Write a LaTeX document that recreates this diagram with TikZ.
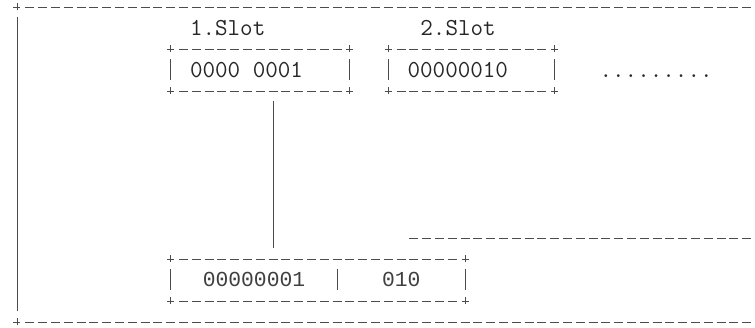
\documentclass[tikz,border=0pt]{standalone}
\usepackage{fontspec}
\newfontfamily\asciifont{Liberation Mono}
\usetikzlibrary{positioning}

% ascii-like frame round a box node
\newcommand{\asciiframe}[1]{%
  \draw[dashrule] ([xshift=8.3pt]#1.north west) -- ([xshift=-8.3pt]#1.north east);
  \draw[dashrule] ([xshift=8.3pt]#1.south west) -- ([xshift=-8.3pt]#1.south east);
  \draw[vbar] ([yshift=-10.5pt]#1.north west) -- ([yshift=10.5pt]#1.south west);
  \draw[vbar] ([yshift=-10.5pt]#1.north east) -- ([yshift=10.5pt]#1.south east);
  \foreach \c in {north west,north east,south west,south east} \pic at (#1.\c) {plusmark};
}

\begin{document}
\begin{tikzpicture}[x=12.8pt, y=-21pt,
    lbl/.style={anchor=base west, inner sep=0pt, yshift=-7.2pt, text=black!85, font=\ttfamily\fontsize{24.38}{28}\selectfont},
    mlbl/.style={anchor=base west, inner sep=0pt, yshift=-6.6pt, text=black!75, font=\asciifont\fontsize{21.33}{25}\selectfont},
    dashrule/.style={draw=black!70, line width=0.85pt, dash pattern=on 9pt off 3.8pt},
    vbar/.style={draw=black!70, line width=0.85pt},
    slotbox/.style={rectangle, inner sep=0pt, outer sep=0pt, minimum height=42pt},
    plusmark/.pic={\draw[vbar] (-3.5pt,0) -- (3.5pt,0) (0,-3.5pt) -- (0,3.5pt);}]
    \useasboundingbox (-1.328,-0.333) rectangle (57.656,15.286);

    % outer frame
    \coordinate (otl) at (0,0);
    \coordinate (obl) at (0,15);
    \coordinate (otr) at (57.7,0);
    \coordinate (obr) at (57.7,15);
    \draw[dashrule] ([xshift=8.3pt]otl) -- (otr);
    \draw[dashrule] ([xshift=8.3pt]obl) -- (obr);
    \draw[vbar, shorten <=10.5pt, shorten >=10.5pt] (otl) -- (obl);
    \pic at (otl) {plusmark};
    \pic at (obl) {plusmark};

    % slots and merged entry
    \node[slotbox, minimum width=179.2pt] (s1) at (19,3) {};
    \node[slotbox, minimum width=166.4pt] (s2) at (35.5,3) {};
    \node[slotbox, minimum width=294.4pt] (m) at (23.5,13) {};
    \asciiframe{s1}
    \asciiframe{s2}
    \asciiframe{m}

    \node[lbl] (l1) at (13.5,1) {1.Slot};
    \node[lbl] (l2) at (31.5,1) {2.Slot};
    \node[lbl] (v1) at (13.5,3) {0000 0001};
    \node[lbl] (v2) at (30.5,3) {00000010};
    \node[lbl] (more) at (45.5,3) {.........};
    \node[mlbl] (mv1) at (14.5,13) {00000001};
    \node[mlbl] (mv2) at (28.5,13) {010};

    % divider in merged entry
    \coordinate (mdiv) at (25,13);
    \draw[vbar] ([yshift=10.5pt]mdiv) -- ([yshift=-10.5pt]mdiv);

    % link slot 1 -> merged entry
    \coordinate (c1) at ([xshift=12.8pt]s1.south);
    \draw[vbar, shorten <=10.5pt, shorten >=10.5pt] (c1) -- (c1 |- m.north);

    % trailing rule
    \coordinate (tail) at (31,11);
    \coordinate (tailend) at (57.7,11);
    \draw[dashrule] ([xshift=-4.5pt]tail) -- (tailend);
\end{tikzpicture}
\end{document}
